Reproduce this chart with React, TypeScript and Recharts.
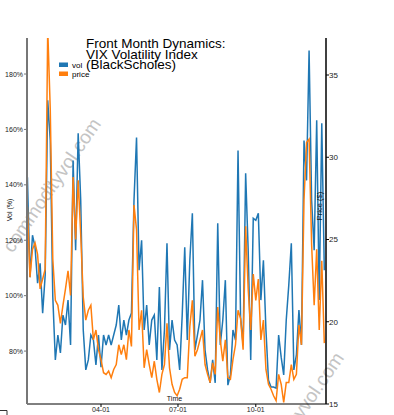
import React from 'react';
import { LineChart, Line, XAxis, YAxis } from 'recharts';

// sampled every 3 calendar days from Jan 3
const startDay = 3;
const stepDays = 3;

const vol = [
  142.7, 106.7, 121.8, 117.5, 104.5, 111.7, 93.7, 107.4, 170.5, 156.0,
  99.5, 76.8, 85.8, 79.3, 93.0, 89.4, 98.4, 82.2, 148.8, 116.4,
  158.6, 134.4, 87.6, 73.2, 76.8, 85.8, 84.0, 75.0, 85.8, 74.2,
  85.8, 82.2, 85.8, 82.2, 85.8, 89.4, 96.6, 84.0, 91.2, 85.8,
  91.2, 93.7, 134.4, 157.1, 109.2, 120.0, 87.6, 96.6, 82.2, 91.2,
  93.0, 76.8, 103.1, 73.2, 87.6, 118.9, 80.4, 91.2, 84.0, 82.2,
  73.2, 93.0, 117.5, 84.0, 112.8, 129.7, 80.4, 85.8, 91.2, 105.6,
  80.4, 73.2, 68.5, 76.8, 68.5, 126.1, 82.2, 91.2, 105.6, 67.7,
  71.4, 87.6, 84.0, 152.4, 92.3, 82.2, 144.2, 116.4, 76.8, 127.9,
  127.2, 129.7, 98.4, 112.8, 87.6, 69.5, 67.0, 67.0, 66.6, 85.8,
  77.8, 71.4, 91.2, 103.8, 118.9, 73.2, 78.6, 94.8, 82.2, 156.0,
  141.6, 188.5, 134.4, 116.4, 163.3, 98.4, 162.2, 109.2,
];

const price = [
  27.0, 22.7, 24.4, 24.8, 24.1, 22.0, 22.6, 23.2, 37.8, 32.9,
  23.8, 21.3, 21.0, 19.9, 21.0, 22.0, 23.1, 21.6, 28.8, 25.0,
  28.6, 25.3, 21.5, 20.1, 20.7, 21.0, 18.9, 19.5, 18.3, 17.7,
  16.9, 16.8, 17.0, 16.6, 17.1, 17.4, 18.6, 18.0, 18.6, 17.7,
  19.5, 18.5, 27.1, 25.6, 19.5, 20.7, 17.2, 18.3, 17.4, 16.6,
  17.6, 16.5, 15.7, 16.8, 17.4, 19.9, 17.2, 16.2, 15.7, 15.5,
  15.9, 16.5, 16.6, 16.6, 19.7, 21.3, 17.9, 18.3, 18.9, 19.5,
  17.4, 16.8, 16.3, 17.5, 16.8, 20.9, 18.9, 17.6, 18.9, 16.6,
  16.5, 17.7, 18.6, 20.7, 20.2, 18.3, 25.8, 22.0, 19.5, 22.9,
  21.3, 22.6, 18.9, 20.1, 17.1, 16.2, 15.9, 15.5, 15.2, 16.8,
  16.2, 15.1, 16.3, 16.3, 17.4, 16.5, 16.8, 19.8, 18.6, 27.4,
  30.9, 31.1, 24.7, 21.0, 24.4, 19.5, 23.7, 18.7,
];

const tickDays = [90, 181, 273];
const tickLabels = ['04-01', '07-01', '10-01'];
const volTicks = [80, 100, 120, 140, 160, 180];
const priceTicks = [15, 20, 25, 30, 35];

const data = vol.map((v, i) => ({
  day: startDay + i * stepDays,
  vol: v,
  price: price[i],
}));

const FONT = '"Liberation Sans", Arial, sans-serif';
const BLUE = '#1f77b4';
const ORANGE = '#ff7f0e';

export default function App() {
  return (
    <div style={{ position: 'absolute', left: 0, top: 0, width: 394, height: 415, fontFamily: FONT }}>
      <svg width={394} height={415} style={{ position: 'absolute', left: 0, top: 0 }}>
        <g fill="#c4c4c4" fontSize={19} fontFamily={FONT}>
          <text x={53} y={186} textAnchor="middle" dominantBaseline="middle" transform="rotate(-55.5 53 186)">
            commodityvol.com
          </text>
          <text x={296} y={420} textAnchor="middle" dominantBaseline="middle" transform="rotate(-55.5 296 420)">
            commodityvol.com
          </text>
        </g>
      </svg>
      <div style={{ position: 'absolute', left: 0, top: 0 }}>
        <LineChart width={394} height={415} data={data} margin={{ top: 38, right: 0, bottom: 0, left: 0 }}>
          <XAxis
            dataKey="day"
            type="number"
            domain={[2.5, 356]}
            ticks={tickDays}
            tickFormatter={(d) => tickLabels[tickDays.indexOf(d)]}
            height={11}
            tickSize={3}
            tickMargin={0}
            axisLine={{ stroke: '#000', strokeWidth: 1 }}
            tickLine={{ stroke: '#000' }}
            tick={{ fontSize: 7, fill: '#222', fontFamily: FONT }}
            allowDataOverflow
          />
          <YAxis
            yAxisId="vol"
            orientation="left"
            width={27}
            domain={[60.9, 193]}
            ticks={volTicks}
            tickFormatter={(v) => `${v}%`}
            tickSize={3}
            tickMargin={1}
            axisLine={{ stroke: '#777', strokeWidth: 2 }}
            tickLine={{ stroke: '#777' }}
            tick={{ fontSize: 7, fill: '#222', fontFamily: FONT }}
            allowDataOverflow
          />
          <YAxis
            yAxisId="price"
            orientation="right"
            width={68}
            domain={[15, 37.25]}
            ticks={priceTicks}
            tickSize={3}
            tickMargin={0}
            axisLine={{ stroke: '#000', strokeWidth: 1.5 }}
            tickLine={{ stroke: '#000' }}
            tick={{ fontSize: 8, fill: '#222', fontFamily: FONT }}
            allowDataOverflow
          />
          <Line
            yAxisId="vol"
            type="linear"
            dataKey="vol"
            stroke={BLUE}
            strokeWidth={1.5}
            dot={false}
            isAnimationActive={false}
          />
          <Line
            yAxisId="price"
            type="linear"
            dataKey="price"
            stroke={ORANGE}
            strokeWidth={1.5}
            dot={false}
            isAnimationActive={false}
          />
        </LineChart>
      </div>
      <svg width={394} height={415} style={{ position: 'absolute', left: 0, top: 0, pointerEvents: 'none' }}>
        <g fontFamily={FONT} fill="#000" fontSize={13.5}>
          <text x={86} y={48}>Front Month Dynamics:</text>
          <text x={86} y={58.5}>VIX Volatility Index</text>
          <text x={86} y={69}>(BlackScholes)</text>
        </g>
        <rect x={59} y={62.5} width={9} height={4.5} fill={BLUE} />
        <rect x={59} y={71.5} width={9} height={4.5} fill={ORANGE} />
        <g fontFamily={FONT} fill="#000" fontSize={8}>
          <text x={72} y={68}>vol</text>
          <text x={72} y={77}>price</text>
        </g>
        <g fontFamily={FONT} fill="#111" fontSize={7}>
          <text x={12} y={210} textAnchor="middle" transform="rotate(-90 12 210)">Vol (%)</text>
          <text x={322} y={206} textAnchor="middle" transform="rotate(-90 322 206)" fontSize={7.5}>Price ($)</text>
          <text x={174.5} y={401} textAnchor="middle">Time</text>
        </g>
        <path d="M0 410.5 H7 V415" stroke="#333" fill="none" strokeWidth={1} />
      </svg>
    </div>
  );
}
